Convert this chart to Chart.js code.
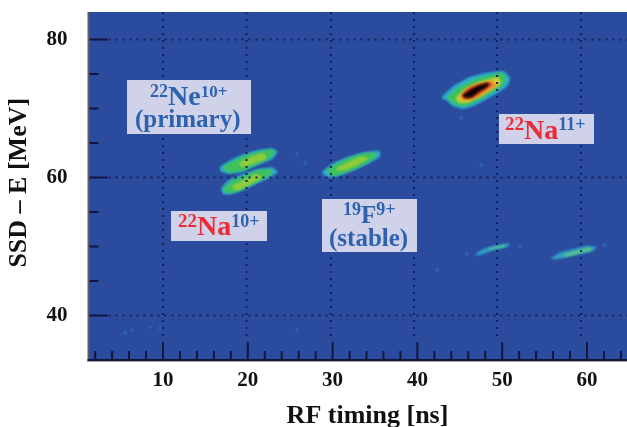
<!DOCTYPE html>
<html>
<head>
<meta charset="utf-8">
<title>SSD-E vs RF timing</title>
<script src="https://cdn.jsdelivr.net/npm/chart.js@4/dist/chart.umd.min.js"></script>
<style>
  html, body { margin: 0; padding: 0; background: #fff; }
  canvas { display: block; }
</style>
</head>
<body>
<canvas id="pid" width="627" height="427"></canvas>
<script>
// axis ticks
const xLabelTicks = [10, 20, 30, 40, 50, 60];
const yLabelTicks = [40, 60, 80];
const xMinorTicks = [2, 4, 6, 8, 12, 14, 16, 18, 22, 24, 26, 28, 32, 34, 36, 38, 42, 44, 46, 48, 52, 54, 56, 58, 62, 64];
const yMinorTicks = [45, 50, 55, 65, 70, 75];
// the dotted grid of the original is slightly off from the x ticks
const xGridLines = [10, 19.85, 29.8, 39.6, 49.4, 59.3];
const yGridLines = [40, 60, 80];

// 22Na 11+ contours [RF ns, E MeV]
const na11Cyan = [[42.98,71.57],[43.6,72.39],[44.67,73.41],[46.2,74.42],[47.97,75.0],[50.09,75.29],[50.8,74.42],[50.57,73.41],[49.39,72.39],[47.74,71.23],[46.56,70.5],[45.38,70.07],[44.2,70.5],[43.6,71.23]];
const na11Green = [[43.64,71.57],[44.63,72.68],[46.2,73.74],[47.97,74.52],[49.94,75.0],[50.33,74.38],[49.94,73.41],[48.36,72.2],[46.99,71.23],[45.61,70.5],[44.43,70.75]];
const na11Yellow = [[44.63,71.51],[45.41,72.43],[46.79,73.41],[48.17,74.03],[49.54,74.38],[49.74,73.65],[48.56,72.68],[47.18,71.71],[45.81,70.99],[44.94,70.99]];
const na11Orange = [[45.1,71.71],[45.81,72.78],[47.18,73.51],[48.76,73.88],[49.15,73.41],[47.97,72.43],[46.59,71.48],[45.41,71.33]];
const na11Red = [[45.34,71.96],[46.2,72.93],[48.17,73.65],[48.76,73.51],[47.77,72.68],[46.59,71.71],[45.61,71.48]];
const na11Black = [[45.41,71.96],[46.2,72.58],[47.18,73.26],[48.36,73.65],[48.17,73.16],[47.18,72.43],[46.4,71.71],[45.61,71.62]];

// 22Ne 10+
const neCyan = [[16.8,61.48],[17.7,62.14],[19.08,63.01],[20.85,63.74],[22.82,64.09],[23.41,63.74],[22.82,62.78],[21.44,62.06],[20.26,61.48],[19.08,60.84],[17.7,60.7],[16.92,60.99]];
const neGreen = [[17.19,61.48],[19.08,62.68],[20.85,63.41],[22.7,63.88],[23.0,63.59],[22.42,62.93],[21.05,62.14],[19.47,61.19],[17.7,60.9]];
const neCore = [[19.08,62.06],[20.65,62.93],[21.83,63.41],[22.03,62.78],[20.65,62.2],[19.47,61.67]];

// 22Na 10+
const na10Cyan = [[16.92,58.29],[17.7,59.39],[19.47,60.36],[21.24,61.09],[22.82,61.33],[23.41,60.84],[22.62,60.12],[21.24,59.39],[19.67,58.43],[18.1,57.71],[17.19,57.71]];
const na10Green = [[17.19,58.19],[18.1,59.25],[19.67,60.12],[21.24,60.84],[22.7,60.99],[22.42,60.36],[21.05,59.54],[19.47,58.58],[17.9,57.9]];
const na10Core = [[18.29,58.67],[19.87,59.64],[21.05,60.36],[21.44,60.03],[19.87,58.91],[18.69,58.29]];

// 19F 9+
const fCyan = [[28.9,60.84],[29.89,61.81],[31.66,62.78],[33.62,63.5],[35.47,63.74],[35.51,63.12],[34.41,62.29],[32.84,61.33],[31.26,60.61],[29.89,60.12],[29.1,60.36]];
const fGreen = [[29.49,60.99],[30.28,61.67],[31.85,62.54],[33.62,63.26],[35.0,63.41],[34.8,62.93],[33.23,61.81],[31.66,60.99],[30.08,60.36]];
const fCore = [[30.48,61.19],[31.85,62.06],[33.23,62.78],[34.02,62.78],[32.84,61.96],[31.26,61.19]];

// the two weak streaks near 50 MeV
const streakACyan = [[46.79,48.87],[47.77,49.64],[49.35,50.22],[50.84,50.46],[50.72,49.97],[49.35,49.59],[47.97,49.01],[47.18,48.67]];
const streakACore = [[48.36,49.74],[49.54,49.97],[50.33,50.22],[50.33,49.97],[49.35,49.74],[48.36,49.59]];
const streakBCyan = [[55.64,48.19],[56.82,49.16],[58.38,49.64],[59.96,50.12],[61.14,49.97],[60.74,49.35],[59.17,48.87],[57.61,48.43],[56.43,48.14]];
const streakBCore = [[57.21,48.77],[58.78,49.35],[60.35,49.82],[60.55,49.49],[58.98,49.01],[57.41,48.52]];

// single faint counts
const specks = [[5.52,37.46],[6.34,37.9],[8.47,38.33],[9.65,38.19],[25.8,37.9],[25.8,63.41],[26.75,62.1],[45.14,68.62],[47.5,61.81],[42.31,46.59],[62.1,50.2],[52.1,49.93],[45.85,48.9]];

const CYAN = '#2cb6cf', GREEN = '#3fc25a', LIME = '#96cd38', YELLOW = '#dccf2e', ORANGE = '#ea8a2c', RED = '#cf2f1c', BLACK = '#0c0606';

// a stroke in the fill colour fattens the contour against the blur
function contour(points, color, stroke) {
  return {
    data: points.concat([points[0]]).map(p => ({ x: p[0], y: p[1] })),
    showLine: true, fill: 'shape', backgroundColor: color,
    borderColor: color, borderWidth: stroke, pointRadius: 0, tension: 0.1
  };
}

const BLUE_TXT = '#2f62ae', RED_TXT = '#ee2a35';
const bold = s => 'bold ' + s + 'px "Liberation Serif"';

// label boxes on the plot, each line is a row of text runs
const boxes = [
  { rect: [127, 80, 124, 54], lines: [
    { x: 150, y: 105, runs: [['22', 18, BLUE_TXT, 8], ['Ne', 28, BLUE_TXT, 0], ['10+', 17, BLUE_TXT, 8]] },
    { x: 135, y: 127, runs: [['(primary)', 25, BLUE_TXT, 0]] }
  ] },
  { rect: [171, 211, 96, 30], lines: [
    { x: 178, y: 235, runs: [['22', 19, RED_TXT, 8], ['Na', 28, RED_TXT, 0], ['10+', 18, BLUE_TXT, 8]] }
  ] },
  { rect: [322, 199, 95, 53], lines: [
    { x: 343, y: 223, runs: [['19', 18, BLUE_TXT, 8], ['F', 25, BLUE_TXT, 0], ['9+', 18, BLUE_TXT, 8]] },
    { x: 329, y: 246, runs: [['(stable)', 25, BLUE_TXT, 0]] }
  ] },
  { rect: [499, 114, 95, 30], lines: [
    { x: 505, y: 139, runs: [['22', 19, RED_TXT, 9], ['Na', 28, RED_TXT, 0], ['11+', 18, BLUE_TXT, 9]] }
  ] }
];

const plotFrame = {
  id: 'plotFrame',
  beforeDraw(chart) {
    const { ctx, chartArea: a } = chart;
    ctx.fillStyle = '#2a4b9e';
    ctx.fillRect(a.left, a.top, a.right - a.left, a.bottom - a.top);
  },
  beforeDatasetsDraw(chart) {
    chart.ctx.save();
    chart.ctx.filter = 'blur(0.9px)';
  },
  afterDatasetsDraw(chart) {
    const { ctx, chartArea: a, scales: { x, y } } = chart;
    ctx.restore();
    ctx.save();
    // dotted grid sits on top of the counts
    ctx.strokeStyle = '#141f5c';
    ctx.lineWidth = 2;
    ctx.setLineDash([2, 5]);
    xGridLines.forEach(v => {
      ctx.beginPath();
      ctx.moveTo(x.getPixelForValue(v), a.top);
      ctx.lineTo(x.getPixelForValue(v), a.bottom - 24);
      ctx.stroke();
    });
    yGridLines.forEach(v => {
      ctx.beginPath();
      ctx.moveTo(a.left + 20, y.getPixelForValue(v));
      ctx.lineTo(a.right, y.getPixelForValue(v));
      ctx.stroke();
    });
    ctx.setLineDash([]);
    // inward ticks
    ctx.strokeStyle = '#14143c';
    const tickX = (v, len) => {
      const p = x.getPixelForValue(v);
      ctx.beginPath(); ctx.moveTo(p, a.bottom); ctx.lineTo(p, a.bottom - len); ctx.stroke();
    };
    const tickY = (v, len) => {
      const p = y.getPixelForValue(v);
      ctx.beginPath(); ctx.moveTo(a.left, p); ctx.lineTo(a.left + len, p); ctx.stroke();
    };
    xLabelTicks.forEach(v => tickX(v, 18));
    xMinorTicks.forEach(v => tickX(v, 9));
    yLabelTicks.forEach(v => tickY(v, 19));
    yMinorTicks.forEach(v => tickY(v, 10));
    // frame
    ctx.fillStyle = '#5c5c66';
    ctx.fillRect(a.left - 1, a.top, 2, a.bottom - a.top + 2);
    ctx.fillStyle = '#14143c';
    ctx.fillRect(a.left - 1, a.bottom - 1, a.right - a.left + 1, 2);
    ctx.fillStyle = '#a8a8a8';
    ctx.fillRect(a.left - 1, a.bottom + 1, a.right - a.left + 1, 1);
    // label boxes
    boxes.forEach(b => {
      ctx.fillStyle = '#cfd2e8';
      ctx.fillRect(b.rect[0], b.rect[1], b.rect[2], b.rect[3]);
      b.lines.forEach(l => {
        let cx = l.x;
        l.runs.forEach(r => {
          ctx.font = bold(r[1]);
          ctx.fillStyle = r[2];
          ctx.fillText(r[0], cx, l.y - r[3]);
          cx += ctx.measureText(r[0]).width;
        });
      });
    });
    ctx.restore();
  }
};

new Chart(document.getElementById('pid').getContext('2d'), {
  type: 'scatter',
  data: {
    // first dataset is painted last, so hottest contour goes first
    datasets: [
      contour(na11Black, BLACK, 1), contour(na11Red, RED, 1), contour(na11Orange, ORANGE, 1.5),
      contour(na11Yellow, YELLOW, 1.5), contour(na11Green, GREEN, 2), contour(na11Cyan, CYAN, 1.5),
      contour(neCore, LIME, 2), contour(neGreen, GREEN, 2.5), contour(neCyan, CYAN, 1.5),
      contour(na10Core, LIME, 2), contour(na10Green, GREEN, 2.5), contour(na10Cyan, CYAN, 1.5),
      contour(fCore, LIME, 2), contour(fGreen, GREEN, 2.5), contour(fCyan, CYAN, 1.5),
      contour(streakACore, '#5fd07a', 0), contour(streakACyan, '#2f9fc4', 0),
      contour(streakBCore, '#5fd07a', 0), contour(streakBCyan, '#2f9fc4', 0),
      {
        data: specks.map(p => ({ x: p[0], y: p[1] })),
        backgroundColor: '#2f86c8', borderWidth: 0,
        pointStyle: 'rect', pointRadius: 1.6
      }
    ]
  },
  options: {
    responsive: false,
    animation: false,
    layout: { autoPadding: false, padding: { left: 9, top: 12, right: 0, bottom: 0 } },
    plugins: { legend: { display: false }, tooltip: { enabled: false } },
    scales: {
      x: {
        type: 'linear', min: 1.215, max: 64.72,
        afterBuildTicks: s => { s.ticks = xLabelTicks.map(v => ({ value: v })); },
        afterFit: s => { s.height = 67; s.paddingLeft = 0; s.paddingRight = 0; },
        grid: { display: false, drawTicks: false },
        border: { display: false },
        ticks: { color: '#111', padding: 8, maxRotation: 0, autoSkip: false, font: { family: 'Liberation Serif', weight: 'bold', size: 21 } },
        // leading spaces: the title sits right of the plot centre in the original
        title: { display: true, text: '   RF timing [ns]', color: '#111', padding: 0, font: { family: 'Liberation Serif', weight: 'bold', size: 26, lineHeight: 0.8 } }
      },
      y: {
        type: 'linear', min: 33.55, max: 83.99,
        afterBuildTicks: s => { s.ticks = yLabelTicks.map(v => ({ value: v })); },
        afterFit: s => { s.width = 79.5; s.paddingTop = 0; s.paddingBottom = 0; },
        grid: { display: false, drawTicks: false },
        border: { display: false },
        ticks: { color: '#111', padding: 21, autoSkip: false, font: { family: 'Liberation Serif', weight: 'bold', size: 21 } },
        title: { display: true, text: ' SSD – E [MeV]', color: '#111', padding: 0, font: { family: 'Liberation Serif', weight: 'bold', size: 26, lineHeight: 0.8 } }
      }
    }
  },
  plugins: [plotFrame]
});
</script>
</body>
</html>
